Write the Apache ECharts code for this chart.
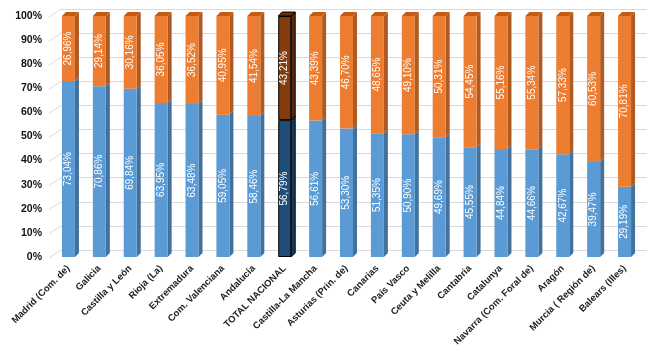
<!DOCTYPE html>
<html>
<head>
<meta charset="utf-8">
<script src="https://cdn.jsdelivr.net/npm/echarts@6/dist/echarts.min.js"></script>
<style>
  html, body { margin: 0; padding: 0; background: #fff; }
  #chart { width: 660px; height: 353px; }
</style>
</head>
<body>
<div id="chart"></div>
<script>
// categorías (comunidades)
var regions = ['Madrid (Com. de)', 'Galicia', 'Castilla y León', 'Rioja (La)', 'Extremadura',
  'Com. Valenciana', 'Andalucía', 'TOTAL NACIONAL', 'Castilla-La Mancha', 'Asturias (Prin. de)',
  'Canarias', 'País Vasco', 'Ceuta y Melilla', 'Cantabria', 'Catalunya',
  'Navarra (Com. Foral de)', 'Aragón', 'Murcia ( Región de)', 'Balears (Illes)'];
// parte azul (abajo)
var bluePct = [73.04, 70.86, 69.84, 63.95, 63.48, 59.05, 58.46, 56.79, 56.61, 53.30,
  51.35, 50.90, 49.69, 45.55, 44.84, 44.66, 42.67, 39.47, 29.19];
// parte naranja (arriba)
var orangePct = [26.96, 29.14, 30.16, 36.05, 36.52, 40.95, 41.54, 43.21, 43.39, 46.70,
  48.65, 49.10, 50.31, 54.45, 55.16, 55.34, 57.33, 60.53, 70.81];
// marcas del eje y
var yTicks = [0, 10, 20, 30, 40, 50, 60, 70, 80, 90, 100];

var totalIdx = regions.indexOf('TOTAL NACIONAL');

var chart = echarts.init(document.getElementById('chart'));

function fmt(v) {
  return v.toFixed(2).replace('.', ',') + '%';
}

// datos de barras, TOTAL NACIONAL resaltado
function barData(values, color, border) {
  return values.map(function (v, i) {
    if (i === totalIdx) {
      return { value: v, itemStyle: { color: color, borderColor: border, borderWidth: 1 } };
    }
    return v;
  });
}

var option = {
  animation: false,
  grid: [
    { left: 53, right: 20, top: 16, bottom: 96 },
    // pared del fondo (efecto 3D)
    { left: 61, right: 13, top: 9, bottom: 103 }
  ],
  xAxis: [
    {
      type: 'category',
      gridIndex: 0,
      data: regions,
      axisLine: { show: false },
      axisTick: { show: false },
      axisLabel: {
        interval: 0,
        rotate: 45,
        margin: 10,
        fontSize: 9.5,
        fontWeight: 'bold',
        color: '#222',
        fontFamily: 'Liberation Sans'
      }
    },
    { type: 'value', gridIndex: 1, min: 0, max: 1, show: false }
  ],
  yAxis: [
    {
      type: 'value',
      gridIndex: 0,
      min: 0,
      max: 100,
      interval: 10,
      axisLine: { show: false },
      axisTick: { show: false },
      splitLine: { show: false },
      axisLabel: {
        formatter: '{value}%',
        margin: 11,
        fontSize: 10.5,
        fontWeight: 'bold',
        color: '#111',
        fontFamily: 'Liberation Sans'
      }
    },
    {
      type: 'value',
      gridIndex: 1,
      min: 0,
      max: 100,
      interval: 10,
      axisLine: { show: false },
      axisTick: { show: false },
      axisLabel: { show: false },
      splitLine: { lineStyle: { color: '#d9d9d9', width: 1 } }
    }
  ],
  series: [
    {
      // tramos inclinados de las líneas de cuadrícula
      type: 'custom',
      xAxisIndex: 1,
      yAxisIndex: 1,
      silent: true,
      z: 1,
      data: yTicks.map(function (t) { return [0, t]; }),
      renderItem: function (params, api) {
        var p = api.coord([0, api.value(1)]);
        return {
          type: 'line',
          shape: { x1: p[0] - 12, y1: p[1] + 8, x2: p[0], y2: p[1] },
          style: { stroke: '#d9d9d9', lineWidth: 1 }
        };
      }
    },
    {
      // caras laterales y tapa de las barras
      type: 'custom',
      xAxisIndex: 0,
      yAxisIndex: 0,
      silent: true,
      z: 2,
      data: bluePct.map(function (v, i) { return [i, v]; }),
      renderItem: function (params, api) {
        var i = api.value(0);
        var b = api.value(1);
        var p0 = api.coord([i, 0]);
        var pm = api.coord([i, b]);
        var pt = api.coord([i, 100]);
        var xl = p0[0] - 6.5, xr = p0[0] + 6.5, dx = 4, dy = -4;
        var hi = i === totalIdx;
        var border = hi ? '#000' : null;
        var lw = hi ? 1 : 0;
        return {
          type: 'group',
          children: [
            {
              type: 'polygon',
              shape: { points: [[xr, p0[1]], [xr + dx, p0[1] + dy], [xr + dx, pm[1] + dy], [xr, pm[1]]] },
              style: { fill: hi ? '#163a5c' : '#41719c', stroke: border, lineWidth: lw }
            },
            {
              type: 'polygon',
              shape: { points: [[xr, pm[1]], [xr + dx, pm[1] + dy], [xr + dx, pt[1] + dy], [xr, pt[1]]] },
              style: { fill: hi ? '#5a2908' : '#ae5a21', stroke: border, lineWidth: lw }
            },
            {
              type: 'polygon',
              shape: { points: [[xl, pt[1]], [xl + dx, pt[1] + dy], [xr + dx, pt[1] + dy], [xr, pt[1]]] },
              style: { fill: hi ? '#6b300a' : '#c55a11', stroke: border, lineWidth: lw }
            }
          ]
        };
      }
    },
    {
      name: 'azul',
      type: 'bar',
      stack: 'total',
      barWidth: 13,
      z: 3,
      itemStyle: { color: '#5b9bd5' },
      label: {
        show: true,
        position: 'inside',
        rotate: 90,
        color: '#fff',
        fontSize: 10,
        fontFamily: 'Liberation Sans',
        formatter: function (p) { return fmt(p.value); }
      },
      data: barData(bluePct, '#1f4e79', '#000')
    },
    {
      name: 'naranja',
      type: 'bar',
      stack: 'total',
      barWidth: 13,
      z: 3,
      itemStyle: { color: '#ed7d31' },
      label: {
        show: true,
        position: 'inside',
        rotate: 90,
        color: '#fff',
        fontSize: 10,
        fontFamily: 'Liberation Sans',
        formatter: function (p) { return fmt(p.value); }
      },
      data: barData(orangePct, '#843c0c', '#000')
    }
  ]
};

chart.setOption(option);
</script>
</body>
</html>
